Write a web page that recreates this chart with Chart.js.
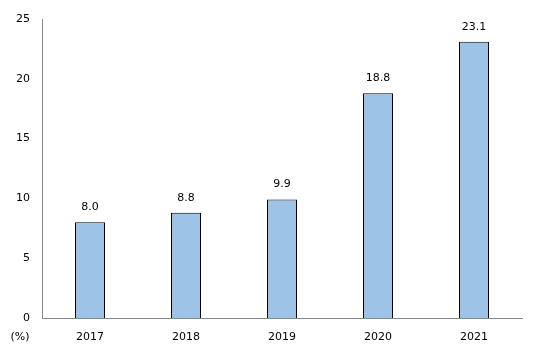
<!DOCTYPE html>
<html>
<head>
<meta charset="utf-8">
<script src="https://cdn.jsdelivr.net/npm/chart.js@4"></script>
<style>
  html, body { margin: 0; padding: 0; background: #fff; }
  #wrap { width: 544px; height: 358px; }
</style>
</head>
<body>
<div id="wrap"><canvas id="myChart" width="544" height="358"></canvas></div>
<script>
const years = ['2017', '2018', '2019', '2020', '2021'];
const shares = [8.0, 8.8, 9.9, 18.8, 23.1];
const yTicks = [0, 5, 10, 15, 20, 25];

const font = { family: 'DejaVu Sans', size: 11 };

/* value labels above bars + unit label */
const barLabels = {
  id: 'barLabels',
  afterDatasetsDraw(chart) {
    const c = chart.ctx;
    c.save();
    c.font = '11px "DejaVu Sans"';
    c.fillStyle = '#000';
    c.textAlign = 'center';
    c.textBaseline = 'middle';
    chart.getDatasetMeta(0).data.forEach((bar, i) => {
      c.fillText(shares[i].toFixed(1), bar.x, bar.y - 15);
    });
    c.fillText('(%)', 20, 337);
    c.restore();
  }
};

new Chart(document.getElementById('myChart'), {
  type: 'bar',
  data: {
    labels: years,
    datasets: [{
      data: shares,
      backgroundColor: '#9DC3E6',
      borderColor: '#000',
      borderWidth: 1,
      categoryPercentage: 1,
      barPercentage: 0.3125
    }]
  },
  options: {
    responsive: false,
    animation: false,
    layout: { padding: { top: 19, right: 22, left: 0, bottom: 0 } },
    plugins: { legend: { display: false }, tooltip: { enabled: false } },
    scales: {
      x: {
        grid: { display: false, drawTicks: false },
        border: { display: true, color: '#868686' },
        ticks: { color: '#000', font: font, padding: 13, maxRotation: 0 },
        afterFit(s) { s.height = 40; }
      },
      y: {
        min: 0,
        max: 25,
        afterBuildTicks(s) { s.ticks = yTicks.map(v => ({ value: v })); },
        grid: { display: false, drawTicks: false },
        border: { display: true, color: '#868686' },
        ticks: { color: '#000', font: font, padding: 12 },
        afterFit(s) { s.width = 42; }
      }
    }
  },
  plugins: [barLabels]
});
</script>
</body>
</html>
